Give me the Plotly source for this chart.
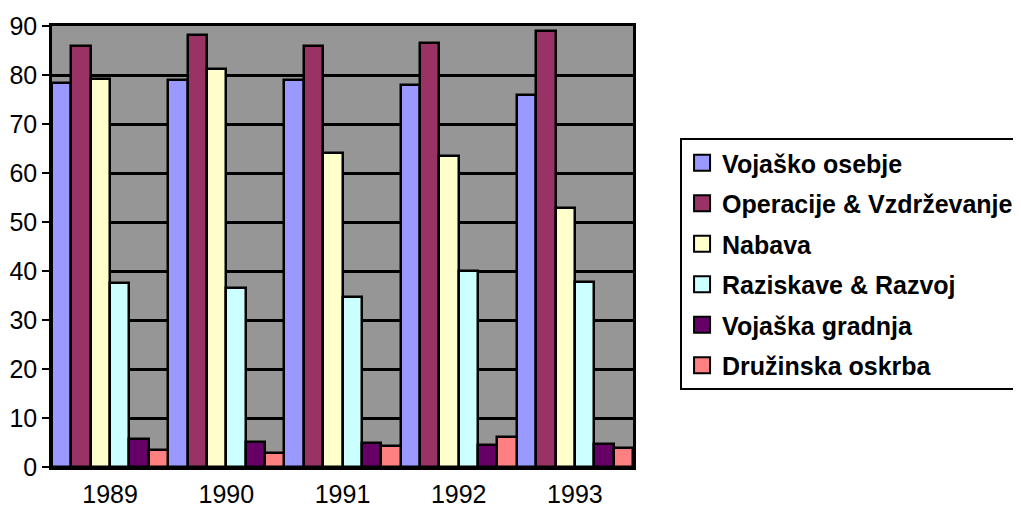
import plotly.graph_objects as go

years = ["1989", "1990", "1991", "1992", "1993"]
series_names = ["Vojaško osebje", "Operacije & Vzdrževanje", "Nabava",
                "Raziskave & Razvoj", "Vojaška gradnja", "Družinska oskrba"]
vojasko_osebje = [78.3, 79.0, 79.0, 78.0, 76.0]
operacije = [86.0, 88.2, 86.0, 86.5, 89.0]
nabava = [79.2, 81.3, 64.0, 63.5, 52.8]
raziskave = [37.5, 36.5, 34.7, 40.0, 37.8]
gradnja = [5.8, 5.1, 4.9, 4.5, 4.7]
oskrba = [3.5, 2.9, 4.3, 6.1, 3.9]
colors = ["#9999FF", "#993366", "#FFFFCC", "#CCFFFF", "#660066", "#FF8080"]

all_values = [vojasko_osebje, operacije, nabava, raziskave, gradnja, oskrba]

fig = go.Figure()
for i, (name, vals, col) in enumerate(zip(series_names, all_values, colors)):
    fig.add_trace(go.Bar(
        x=years, y=vals, name=name, showlegend=False,
        marker=dict(color=col, line=dict(color="black", width=2.5)),
    ))
# legend entries (square swatches)
for i, (name, col) in enumerate(zip(series_names, colors)):
    fig.add_trace(go.Scatter(
        x=[None], y=[None], mode="markers", name="<b>" + name + "</b>",
        legendgroup=f"g{i}",
        marker=dict(symbol="square", size=16, color=col,
                    line=dict(color="black", width=2)),
    ))

fig.update_layout(
    width=1013, height=499,
    margin=dict(l=44, r=388, t=18, b=40, autoexpand=False),
    paper_bgcolor="white", plot_bgcolor="#969696",
    barmode="group", bargap=0, bargroupgap=0,
    font=dict(family="Arial, Liberation Sans", size=25, color="black"),
    showlegend=True,
    legend=dict(
        x=1.081, y=0.746, xanchor="left", yanchor="top",
        bgcolor="white", bordercolor="black", borderwidth=2,
        font=dict(size=25, color="black"),
        traceorder="grouped", tracegroupgap=5,
        itemwidth=30, itemsizing="trace",
    ),
)
fig.update_yaxes(
    range=[0, 90], dtick=10, showgrid=True, gridcolor="black", gridwidth=2.5,
    showline=True, linecolor="black", linewidth=2.5, mirror=True,
    ticks="outside", ticklen=7, tickwidth=2, tickcolor="black",
    tickfont=dict(size=25), zeroline=False, automargin=False,
)
fig.update_xaxes(
    showline=True, linecolor="black", linewidth=2.5, mirror=True,
    ticks="", tickfont=dict(size=25), automargin=False, ticklabelstandoff=3,
)

fig.write_html("out.html")
